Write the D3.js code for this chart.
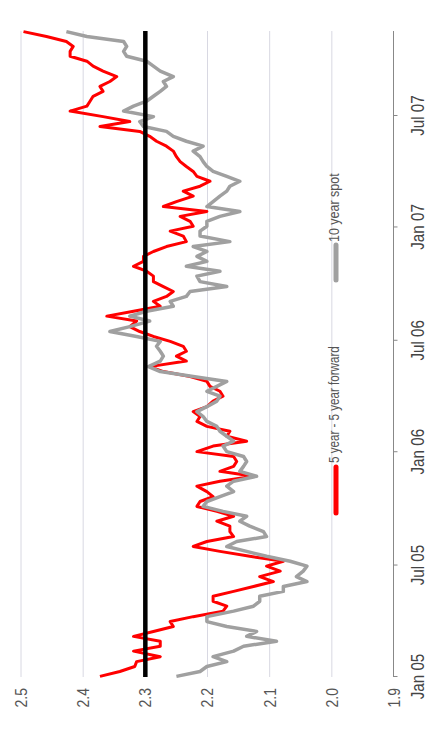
<!DOCTYPE html>
<html>
<head>
<meta charset="utf-8">
<script src="https://cdn.jsdelivr.net/npm/d3@7"></script>
<style>
  html, body { margin: 0; padding: 0; background: #fff; }
  svg { display: block; }
  text { font-family: "Liberation Sans", Arial, sans-serif; }
</style>
</head>
<body>
<svg id="chart" width="428" height="736"></svg>
<script>
// ---- data ----
const seriesNames = ["5 year - 5 year forward", "10 year spot"];
const seriesColors = ["#ff0000", "#a0a0a0"];
const startDate = new Date(2005, 0, 2);
const stepDays = 8.12;
const forward5y5y = [2.373, 2.341, 2.317, 2.314, 2.276, 2.319, 2.276, 2.276, 2.319, 2.287, 2.255, 2.260, 2.223, 2.175, 2.169, 2.191, 2.191, 2.158, 2.126, 2.094, 2.116, 2.083, 2.105, 2.078, 2.132, 2.180, 2.223, 2.201, 2.158, 2.164, 2.164, 2.185, 2.158, 2.185, 2.217,
2.212, 2.191, 2.201, 2.217, 2.180, 2.126, 2.180, 2.158, 2.153, 2.158, 2.217, 2.191, 2.137, 2.169, 2.164, 2.201, 2.217, 2.212, 2.223, 2.201, 2.191, 2.175, 2.180, 2.196, 2.201, 2.228, 2.271, 2.293, 2.234, 2.250, 2.234, 2.239,
2.260, 2.287, 2.309, 2.325, 2.314, 2.362, 2.319, 2.276, 2.287, 2.266, 2.255, 2.271, 2.287, 2.287, 2.298, 2.319, 2.303, 2.303, 2.287, 2.266, 2.234, 2.239, 2.260, 2.223, 2.228, 2.244, 2.201, 2.271, 2.250, 2.223, 2.239, 2.212,
2.196, 2.217, 2.223, 2.234, 2.244, 2.250, 2.255, 2.266, 2.282, 2.293, 2.309, 2.373, 2.325, 2.368, 2.421, 2.394, 2.389, 2.384, 2.368, 2.373, 2.357, 2.346, 2.368, 2.384, 2.394, 2.421, 2.421, 2.416, 2.427, 2.459, 2.496];
const spot10y = [2.250, 2.212, 2.201, 2.169, 2.191, 2.158, 2.142, 2.089, 2.137, 2.121, 2.169, 2.201, 2.201, 2.158, 2.126, 2.116, 2.116, 2.078, 2.078, 2.040, 2.057, 2.046, 2.040, 2.067, 2.105, 2.137, 2.169, 2.153, 2.105, 2.110, 2.132, 2.148, 2.137, 2.175, 2.207,
2.201, 2.180, 2.158, 2.169, 2.158, 2.121, 2.148, 2.142, 2.137, 2.142, 2.169, 2.175, 2.158, 2.169, 2.180, 2.185, 2.201, 2.207, 2.217, 2.201, 2.185, 2.180, 2.201, 2.185, 2.169, 2.223, 2.276, 2.295, 2.276, 2.271, 2.276, 2.282,
2.276, 2.314, 2.357, 2.325, 2.293, 2.325, 2.298, 2.255, 2.260, 2.234, 2.228, 2.169, 2.212, 2.217, 2.180, 2.234, 2.201, 2.217, 2.201, 2.223, 2.164, 2.212, 2.212, 2.201, 2.201, 2.180, 2.148, 2.201, 2.191, 2.180, 2.169, 2.164,
2.148, 2.169, 2.191, 2.201, 2.207, 2.212, 2.223, 2.207, 2.234, 2.255, 2.266, 2.303, 2.309, 2.287, 2.335, 2.319, 2.298, 2.287, 2.276, 2.266, 2.271, 2.255, 2.276, 2.287, 2.298, 2.330, 2.335, 2.330, 2.335, 2.394, 2.427];
const referenceLevel = 2.3;
const valueTicks = [2.5, 2.4, 2.3, 2.2, 2.1, 2.0, 1.9];
const valueTickLabels = ["2.5", "2.4", "2.3", "2.2", "2.1", "2.0", "1.9"];
const timeTicks = [new Date(2005,0,1), new Date(2005,6,1), new Date(2006,0,1), new Date(2006,6,1), new Date(2007,0,1), new Date(2007,6,1)];
const timeTickLabels = ["Jan 05", "Jul 05", "Jan 06", "Jul 06", "Jan 07", "Jul 07"];
const axisEndDate = new Date(2007, 10, 16);

const dates = forward5y5y.map((_, i) => d3.timeDay.offset(startDate, Math.round(i * stepDays)));

// narrow-font look: compress text horizontally along its own direction
function narrow(sel, f) {
  sel.each(function () {
    const L = this.getComputedTextLength();
    d3.select(this).attr("textLength", L * f).attr("lengthAdjust", "spacingAndGlyphs");
  });
}

// ---- drawing: the chart is rotated 90deg counter-clockwise ----
const svg = d3.select("#chart");
const g = svg.append("g").attr("transform", "translate(0,736) rotate(-90)");

const x = d3.scaleTime().domain([timeTicks[0], timeTicks[5]]).range([59, 620]);
const y = d3.scaleLinear().domain([1.9, 2.5]).range([394, 21]);
const xEnd = x(axisEndDate);

// gridlines
g.append("g").selectAll("line")
  .data(valueTicks.filter(v => v !== 1.9 && v !== referenceLevel))
  .join("line")
  .attr("x1", x(timeTicks[0])).attr("x2", xEnd)
  .attr("y1", d => y(d)).attr("y2", d => y(d))
  .attr("stroke", "#d8d8e2").attr("stroke-width", 1);

// value labels
g.append("g").selectAll("text")
  .data(valueTicks)
  .join("text")
  .attr("x", 48).attr("y", d => y(d)).attr("dy", "0.35em")
  .attr("text-anchor", "end")
  .attr("font-size", 17).attr("fill", "#555")
  .text((d, i) => valueTickLabels[i])
  .call(narrow, 0.82);

// time axis
const axis = d3.axisBottom(x).tickValues(timeTicks).tickSize(4).tickSizeOuter(0).tickFormat((d, i) => timeTickLabels[i]);
const ax = g.append("g").attr("transform", `translate(0,${y(1.9) - 0.5})`).call(axis);
ax.select(".domain").attr("d", `M${x(timeTicks[0])},0H${xEnd}`).attr("stroke", "#888");
ax.selectAll(".tick line").attr("stroke", "#888");
ax.selectAll(".tick text").attr("y", 30).attr("dy", 0)
  .attr("font-size", 19).attr("fill", "#444")
  .style("font-family", '"Liberation Sans", Arial, sans-serif')
  .call(narrow, 0.8);

// series
const line = d3.line().x((d, i) => x(dates[i])).y(d => y(d));
const series = [forward5y5y, spot10y];
series.forEach((s, si) => {
  g.append("path").datum(s)
    .attr("d", line)
    .attr("fill", "none")
    .attr("stroke", seriesColors[si])
    .attr("stroke-width", si === 0 ? 3 : 3.5)
    .attr("stroke-linejoin", "round");
});

// reference line 2.3
g.append("line")
  .attr("x1", x(timeTicks[0])).attr("x2", xEnd)
  .attr("y1", y(referenceLevel)).attr("y2", y(referenceLevel))
  .attr("stroke", "#000").attr("stroke-width", 4.5);

// legend
const legendPos = [223, 456];
const leg = g.append("g");
seriesNames.forEach((name, i) => {
  leg.append("line")
    .attr("x1", legendPos[i]).attr("x2", legendPos[i] + (i === 0 ? 46 : 35))
    .attr("y1", 336).attr("y2", 336)
    .attr("stroke", seriesColors[i]).attr("stroke-width", 5).attr("stroke-linecap", "round");
  leg.append("text")
    .attr("x", legendPos[i] + (i === 0 ? 50 : 38)).attr("y", 339)
    .attr("font-size", 14.5).attr("fill", "#555")
    .text(name)
    .call(narrow, i === 0 ? 0.8 : 0.86);
});
</script>
</body>
</html>
